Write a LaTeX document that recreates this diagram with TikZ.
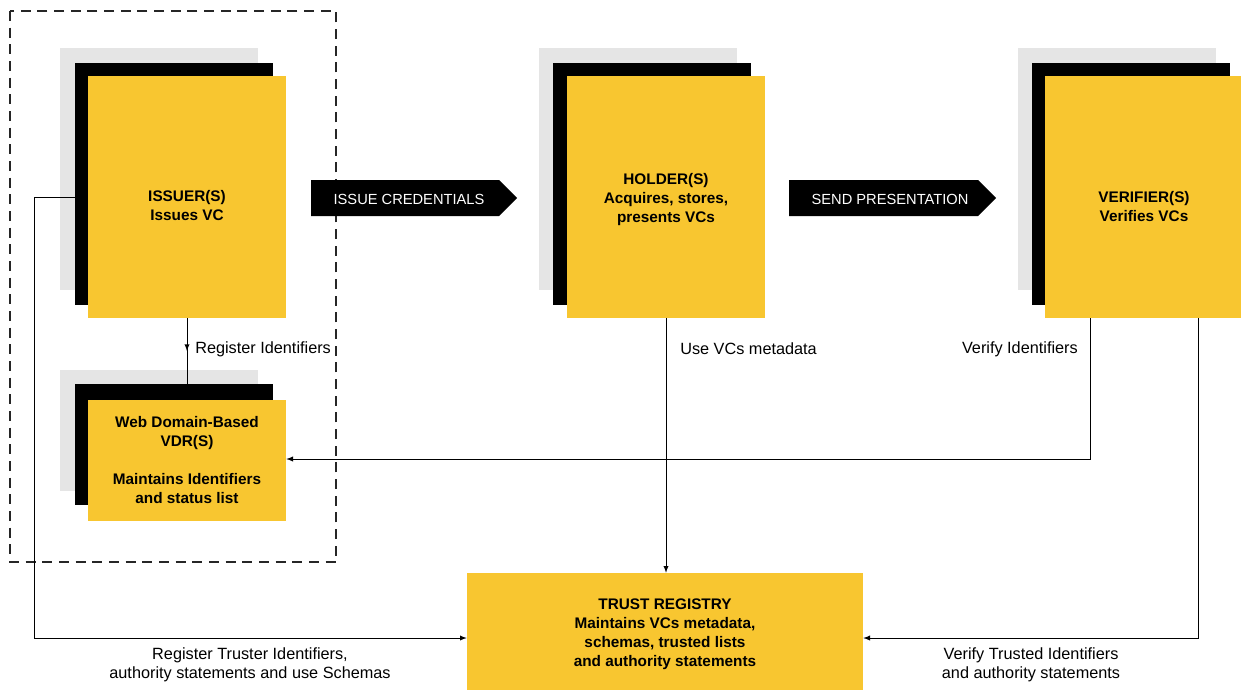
\documentclass[tikz,border=0pt]{standalone}
\usepackage{fontspec}
\setmainfont{Liberation Sans}
\usetikzlibrary{arrows,decorations.markings}
\definecolor{cardyellow}{HTML}{F8C630}
\definecolor{cardgray}{HTML}{E5E5E5}

\begin{document}
\begin{tikzpicture}[x=0.75pt,y=-0.75pt,
  card/.style={fill=cardyellow,inner sep=0pt,minimum width=148.5pt,minimum height=181.5pt,align=center,font=\bfseries\fontsize{11.5}{14.25}\selectfont},
  blk/.style={fill=black,inner sep=0pt,minimum width=148.5pt,minimum height=181.5pt},
  gry/.style={fill=cardgray,inner sep=0pt,minimum width=148.5pt,minimum height=181.5pt},
  title/.style={inner sep=0pt,align=center,font=\bfseries\fontsize{11.5}{14.25}\selectfont},
  lbl/.style={inner sep=0pt,align=center,font=\fontsize{12.2}{14.25}\selectfont},
  banner/.style={inner sep=0pt,text=white,font=\fontsize{11}{12}\selectfont},
  conn/.style={line width=0.75pt},
  midarrow/.style={postaction={decorate},decoration={markings,mark=at position 0.5 with {\arrow{latex}}}}]
\useasboundingbox (0,0) rectangle (1241,690);

% issuer side, dashed group
\draw[line width=1pt,draw=black!85,dash pattern=on 7.5pt off 5pt] (10,11) rectangle (336,562);

\node[gry] (issuergry) at (158.5,169) {};
\node[blk] (issuerblk) at (173.5,184) {};
\node[card] (issuer) at (187,197) {};
\node[title] (issuertxt) at (187,206) {ISSUER(S)\\Issues VC};

\node[gry,minimum height=90.75pt] (vdrgry) at (159,430.5) {};
\node[blk,minimum height=90.75pt] (vdrblk) at (173.5,444.5) {};
\node[card,minimum height=90.75pt] (vdr) at (187,460) {Web Domain-Based\\VDR(S)\\[14.25pt]Maintains Identifiers\\and status list};

% holder
\node[gry] (holdergry) at (638,169) {};
\node[blk] (holderblk) at (652,184) {};
\node[card] (holder) at (666,197) {};
\node[title] (holdertxt) at (666,200) {HOLDER(S)\\Acquires, stores,\\presents VCs};

% verifier
\node[gry] (verifiergry) at (1116.5,169) {};
\node[blk] (verifierblk) at (1131,184) {};
\node[card] (verifier) at (1144,197) {};
\node[title] (verifiertxt) at (1144,207) {VERIFIER(S)\\Verifies VCs};

% trust registry
\node[card,minimum width=297pt,minimum height=87.75pt] (trust) at (665,631.5) {};
\node[title] (trusttxt) at (665,634) {TRUST REGISTRY\\Maintains VCs metadata,\\schemas, trusted lists\\and authority statements};

% banners
\fill (311,180) -- (499,180) -- (517,198) -- (499,216) -- (311,216) -- cycle;
\node[banner] (issuecred) at (409,199) {ISSUE CREDENTIALS};
\fill (789,180) -- (978,180) -- (996,198) -- (978,216) -- (789,216) -- cycle;
\node[banner] (sendpres) at (890,199) {SEND PRESENTATION};

% connectors
\draw[conn,midarrow] (issuer.south) -- (issuer.south |- vdrblk.north);
\node[lbl,anchor=west] (regid) at (195,349) {Register Identifiers};

\draw[conn,-latex] (holder.south) -- (holder.south |- trust.north);
\node[lbl,anchor=west] (usevc) at (680,349) {Use VCs metadata};

\draw[conn,-latex] ([xshift=-40.5pt]verifier.south) |- (vdr.east |- 0,459);
\node[lbl,anchor=east] (verid) at (1078,349) {Verify Identifiers};

\draw[conn,-latex] (issuer.west) -- ++(-53,0) |- (trust.west |- 0,638);
\node[lbl] (regtrust) at (250,665) {Register Truster Identifiers,\\authority statements and use Schemas};

\draw[conn,-latex] ([xshift=40.5pt]verifier.south) |- (trust.east |- 0,638);
\node[lbl] (vertrust) at (1031,665) {Verify Trusted Identifiers\\and authority statements};
\end{tikzpicture}
\end{document}
